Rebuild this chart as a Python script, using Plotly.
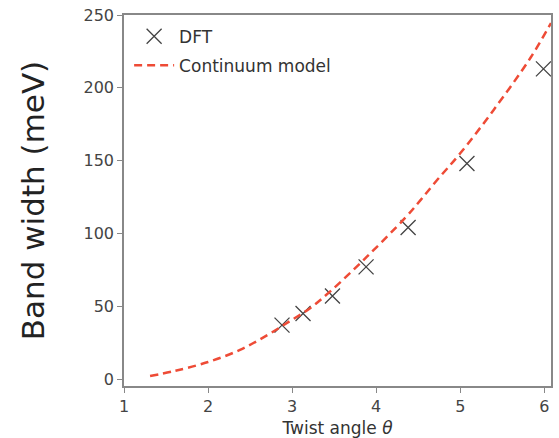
import plotly.graph_objects as go

# DFT data
dft_theta = [2.88, 3.13, 3.48, 3.88, 4.38, 5.08, 5.99]
dft_width = [37, 45, 57, 77, 104, 148, 213]

# Continuum model curve
cm_theta = [1.31, 1.60, 2.00, 2.38, 2.70, 2.98, 3.21, 3.45, 3.89, 4.35, 4.53, 4.73, 5.00, 5.40, 5.84, 6.08]
cm_width = [2.0, 5.5, 11.7, 20.0, 30.0, 40.0, 48.5, 60.0, 84.0, 111.0, 123.0, 137.0, 155.0, 185.0, 221.0, 244.5]

x_ticks = [1, 2, 3, 4, 5, 6]
y_ticks = [0, 50, 100, 150, 200, 250]

fig = go.Figure()
fig.add_trace(go.Scatter(
    x=dft_theta, y=dft_width, mode="markers", name="DFT", legendgroup="a",
    marker=dict(symbol="x-thin", size=15, line=dict(color="#444444", width=1.3), color="#444444"),
))
fig.add_trace(go.Scatter(
    x=cm_theta, y=cm_width, mode="lines", name="Continuum model", legendgroup="b",
    line=dict(color="#ee4b36", width=2.5, dash="8px,5px", shape="spline"),
))

axis_common = dict(
    showline=True, linecolor="#888888", linewidth=1.5, mirror=True,
    ticks="outside", ticklen=5, tickwidth=1.2, tickcolor="#888888",
    showgrid=False, zeroline=False, automargin=False,
    tickfont=dict(family="DejaVu Sans", size=16, color="#444444"),
)

fig.update_layout(
    width=559, height=438,
    margin=dict(l=124, r=8, t=15, b=52),
    paper_bgcolor="white", plot_bgcolor="white",
    font=dict(family="DejaVu Sans", color="#333333"),
    showlegend=True,
    legend=dict(x=0.012, y=0.99, xanchor="left", yanchor="top",
                bgcolor="rgba(0,0,0,0)", font=dict(size=17, color="#333333"),
                itemwidth=40, tracegroupgap=4),
    xaxis=dict(range=[1, 6.08], tickvals=x_ticks,
               title=dict(text="Twist angle <i>θ</i>", font=dict(size=17, color="#333333"), standoff=10),
               **axis_common),
    yaxis=dict(range=[-4.8, 250], tickvals=y_ticks,
               title=dict(text="Band width (meV)", font=dict(size=31, color="#222222"), standoff=30),
               **axis_common),
)

fig.write_html("out.html")
